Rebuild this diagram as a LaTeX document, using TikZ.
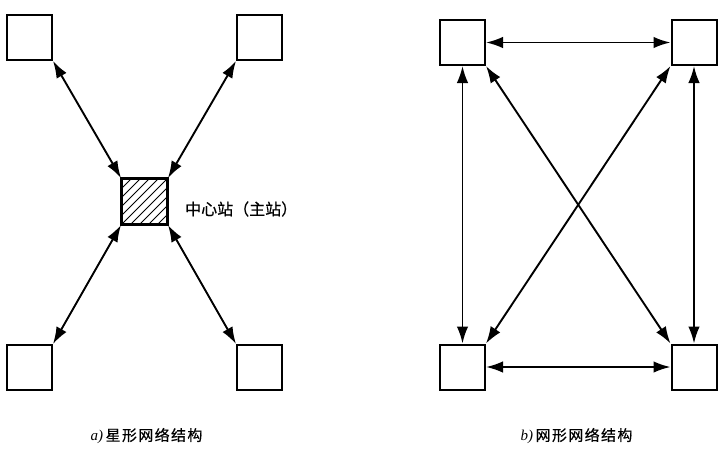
\documentclass[tikz,border=0pt]{standalone}
\usepackage{fontspec}
\newfontfamily\cjk[FakeBold=0.6]{Noto Sans CJK SC}
\newfontfamily\cjkcap[FakeBold=0.6,LetterSpace=9]{Noto Sans CJK SC}
\newfontfamily\latinit{Liberation Serif}
\usetikzlibrary{arrows.meta}
\begin{document}
\begin{tikzpicture}[x=1pt,y=-1pt,
  box/.style={draw, line width=2pt, minimum size=45pt, inner sep=0pt, fill=white},
  link/.style={line width=1.9pt, {Latex[length=17pt,width=11.5pt]}-{Latex[length=17pt,width=11.5pt]}},
  hatch/.style={line width=0.9pt},
  lbl/.style={font=\cjk\fontsize{16}{18}\selectfont, inner sep=0pt},
  captext/.style={font=\cjkcap\fontsize{15}{17}\selectfont, inner sep=0pt}]
\useasboundingbox[fill=white] (0,0) rectangle (720,461);
% ---- a) star
\node[box] (s1) at (29.5,37.5) {};
\node[box] (s2) at (259.5,37.5) {};
\node[box] (s3) at (29.5,367.5) {};
\node[box] (s4) at (259.5,367.5) {};
\node[box] (c) at (144.5,201.5) {};
\begin{scope}
  \clip (c.south west) rectangle (c.north east);
  \foreach \k in {-45,-36,...,45}
    \draw[hatch] ([xshift=\k pt]c.south west) -- ++(50,-50);
\end{scope}
\draw[line width=2pt] (c.south west) rectangle (c.north east);
\draw[link] (s1.south east) -- (c.north west);
\draw[link] (s2.south west) -- (c.north east);
\draw[link] (s3.north east) -- (c.south west);
\draw[link] (s4.north west) -- (c.south east);
\node[lbl, anchor=west] (cl) at (185,209) {中心站（主站）};
\node[captext] (ca) at (146.5,436) {{\latinit\itshape a)}\,星形网络结构};
% ---- b) mesh
\node[box] (m1) at (462.5,42.5) {};
\node[box] (m2) at (694,42.5) {};
\node[box] (m3) at (462.5,367) {};
\node[box] (m4) at (694,367) {};
\draw[link] (m1.east) -- (m2.west);
\draw[link] (m3.east) -- (m4.west);
\draw[link] (m1.south) -- (m3.north);
\draw[link] (m2.south) -- (m4.north);
\draw[link] (m1.south east) -- (m4.north west);
\draw[link] (m2.south west) -- (m3.north east);
\node[captext] (cb) at (576.5,436) {{\latinit\itshape b)}\,网形网络结构};
\end{tikzpicture}
\end{document}
